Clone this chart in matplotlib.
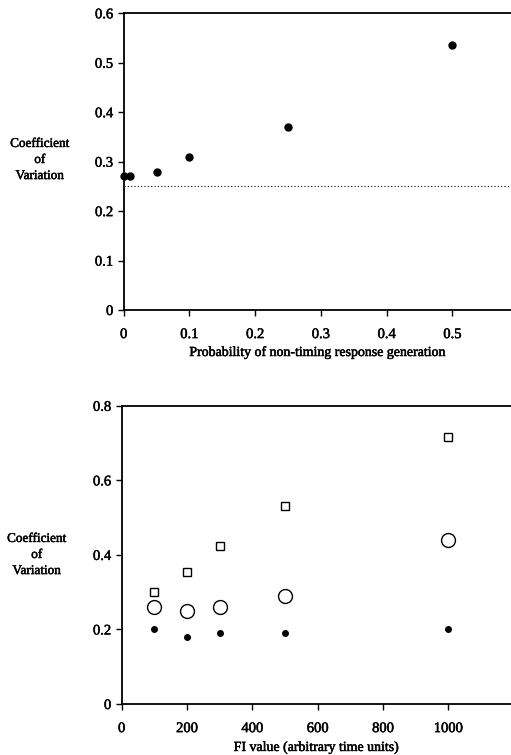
import numpy as np
import matplotlib.pyplot as plt
import matplotlib.patheffects as pe

plt.rcParams['font.family'] = ['Liberation Serif', 'DejaVu Serif']

# top panel data
prob = [0.0, 0.01, 0.05, 0.1, 0.25, 0.5]
cv_prob = [0.27, 0.27, 0.28, 0.31, 0.37, 0.535]
baseline = 0.25

# bottom panel data
fi = [100, 200, 300, 500, 1000]
cv_square = [0.30, 0.355, 0.425, 0.53, 0.715]
cv_circle = [0.26, 0.25, 0.26, 0.29, 0.44]
cv_dot = [0.20, 0.18, 0.19, 0.19, 0.20]

# slight stroke to mimic the heavy printed type
thick = [pe.withStroke(linewidth=0.35, foreground='black')]

fig = plt.figure(figsize=(5.11, 7.55), dpi=100)

def style(ax):
    ax.spines['right'].set_visible(False)
    for s in ['left', 'bottom', 'top']:
        ax.spines[s].set_linewidth(1.3)
    ax.tick_params(direction='out', length=4, width=1, labelsize=10.5)
    ax.tick_params(axis='x', pad=9)
    for lab in ax.get_xticklabels() + ax.get_yticklabels():
        lab.set_path_effects(thick)

ax1 = fig.add_axes([0.242, 0.5894, 0.758, 0.393])
ax1.plot(prob, cv_prob, 'o', color='black', ms=5, clip_on=False)
ax1.axhline(baseline, color='black', lw=0.8, ls=(0, (1, 2)))
ax1.set_xlim(0, 0.589)
ax1.set_ylim(0, 0.6)
ax1.set_xticks([0, 0.1, 0.2, 0.3, 0.4, 0.5])
ax1.set_xticklabels(['0', '0.1', '0.2', '0.3', '0.4', '0.5'])
ax1.set_yticks([0, 0.1, 0.2, 0.3, 0.4, 0.5, 0.6])
ax1.set_yticklabels(['0', '0.1', '0.2', '0.3', '0.4', '0.5', '0.6'])
style(ax1)
ax1.set_xlabel('Probability of non-timing response generation', fontsize=10, labelpad=3,
               path_effects=thick)
fig.text(0.078, 1 - 160 / 755, 'Coefficient\nof\nVariation', ha='center', va='center',
         fontsize=9.5, linespacing=1.45, path_effects=thick)

ax2 = fig.add_axes([0.238, 0.0675, 0.762, 0.395])
ax2.plot(fi, cv_square, 's', mfc='white', mec='black', mew=1, ms=6)
ax2.plot(fi, cv_circle, 'o', mfc='white', mec='black', mew=1, ms=10)
ax2.plot(fi, cv_dot, 'o', color='black', ms=4)
ax2.set_xlim(0, 1192)
ax2.set_ylim(0, 0.8)
ax2.set_xticks([0, 200, 400, 600, 800, 1000])
ax2.set_yticks([0, 0.2, 0.4, 0.6, 0.8])
ax2.set_yticklabels(['0', '0.2', '0.4', '0.6', '0.8'])
style(ax2)
ax2.set_xlabel('FI value (arbitrary time units)', fontsize=10, labelpad=4,
               path_effects=thick)
fig.text(0.072, 1 - 555 / 755, 'Coefficient\nof\nVariation', ha='center', va='center',
         fontsize=9.5, linespacing=1.45, path_effects=thick)

fig.savefig('out.png', dpi=100)
